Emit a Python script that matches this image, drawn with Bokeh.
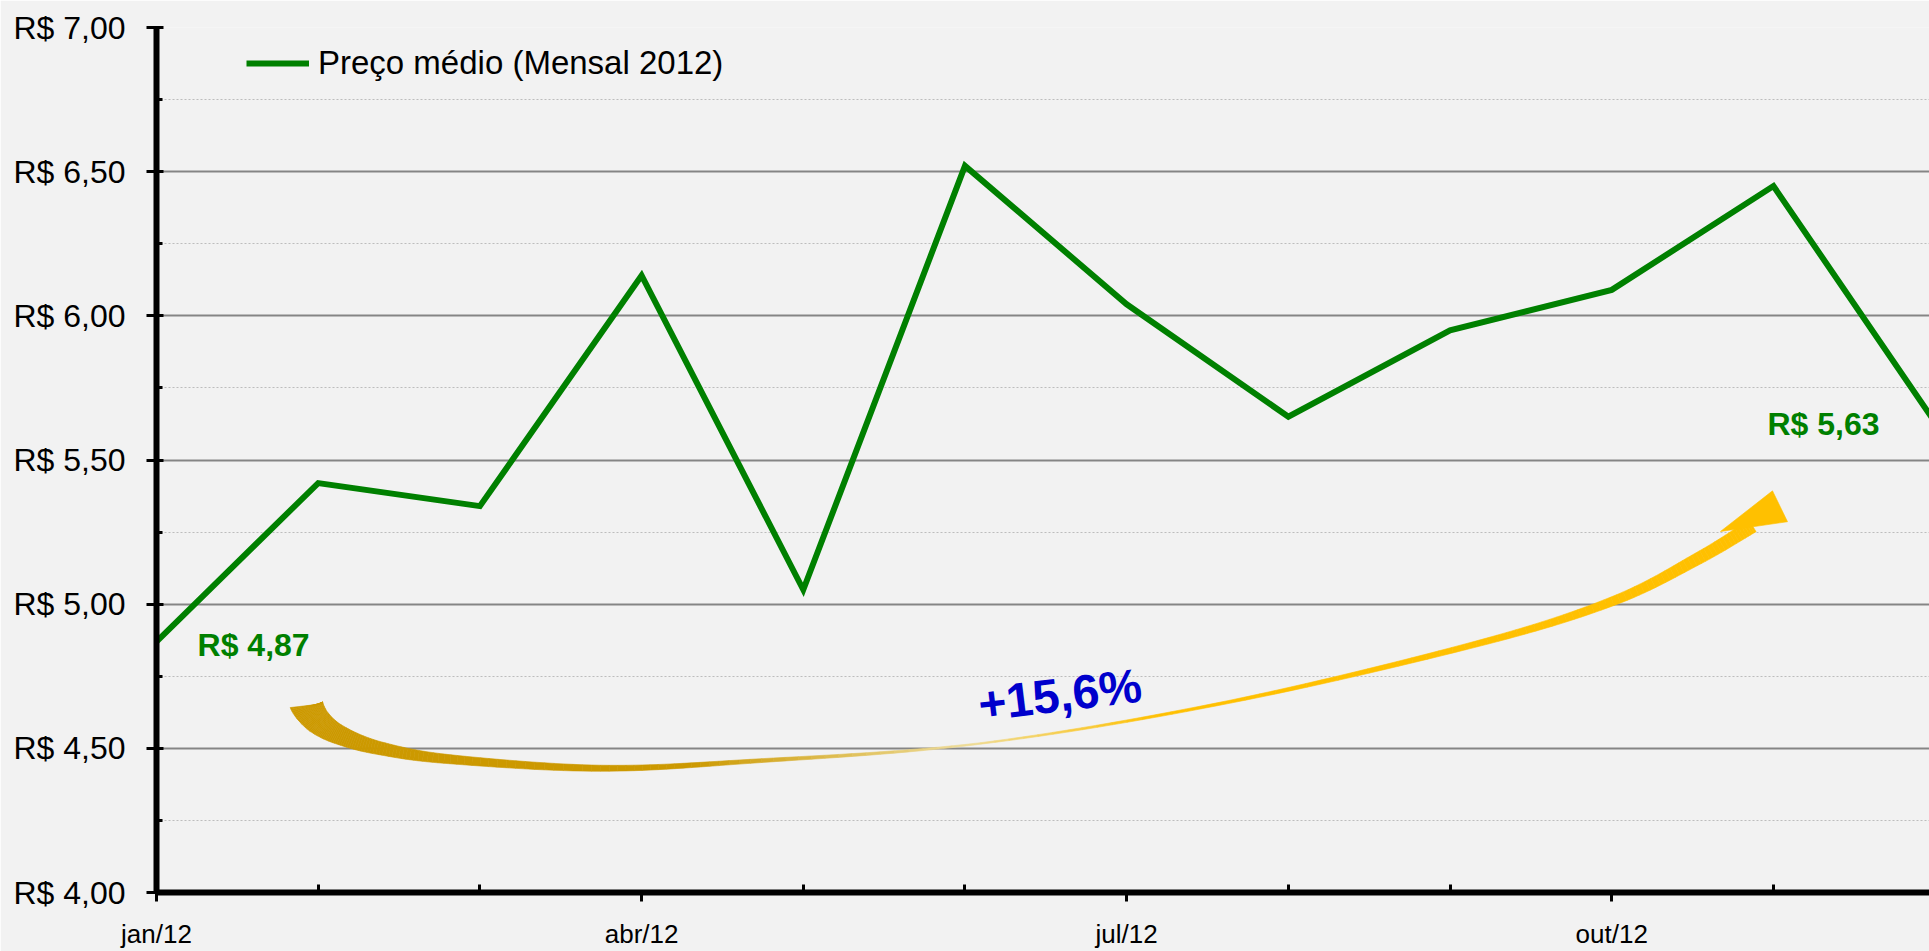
import numpy as np
from bokeh.plotting import figure
from bokeh.models import Range1d, FixedTicker, Legend, LegendItem, ColumnDataSource
from bokeh.core.properties import value
from bokeh.embed import file_html
from bokeh.resources import INLINE

# ---------------- data ----------------
months = ["jan/12", "fev/12", "mar/12", "abr/12", "mai/12", "jun/12",
          "jul/12", "ago/12", "set/12", "out/12", "nov/12", "dez/12"]
precos = [4.87, 5.42, 5.34, 6.14, 5.05, 6.52, 6.04, 5.65, 5.95, 6.09, 6.45, 5.63]
y_ticks = [4.0, 4.5, 5.0, 5.5, 6.0, 6.5, 7.0]
y_tick_labels = ["R$ 4,00", "R$ 4,50", "R$ 5,00", "R$ 5,50", "R$ 6,00", "R$ 6,50", "R$ 7,00"]
y_minor = [4.25, 4.75, 5.25, 5.75, 6.25, 6.75]
series_name = "Preço médio (Mensal 2012)"
label_first = "R$ 4,87"
label_last = "R$ 5,63"
label_var = "+15,6%"

# ---------------- layout ----------------
W, H = 1929, 951
BL, BR, BT, BB = 156, 0, 27, 56
FONT = "Liberation Sans"
x_start, x_end = 0.0, 10.965
y_start, y_end = 4.0, 7.0

p = figure(width=W, height=H, output_backend="svg", toolbar_location=None,
           x_range=Range1d(x_start, x_end), y_range=Range1d(y_start, y_end),
           min_border_left=BL, min_border_right=BR, min_border_top=BT, min_border_bottom=BB,
           background_fill_color="#f2f2f2", border_fill_color="#f2f2f2",
           outline_line_color=None)

# axes
xi = list(range(len(months)))
p.xaxis.ticker = FixedTicker(ticks=xi[::3], minor_ticks=[i for i in xi if i % 3 != 0])
p.xaxis.major_label_overrides = {i: months[i] for i in xi[::3]}
p.yaxis.ticker = FixedTicker(ticks=y_ticks, minor_ticks=y_minor)
p.yaxis.major_label_overrides = {t: l for t, l in zip(y_ticks, y_tick_labels)}

for ax in (p.xaxis, p.yaxis):
    ax.axis_line_color = "black"
    ax.axis_line_width = 6
    ax.major_tick_line_color = "black"
    ax.major_tick_line_width = 3
    ax.minor_tick_line_color = "black"
    ax.minor_tick_line_width = 3
    ax.major_label_text_font = FONT
    ax.major_label_text_color = "black"

p.yaxis.major_tick_out = 10
p.yaxis.major_tick_in = 7
p.yaxis.minor_tick_out = 0
p.yaxis.minor_tick_in = 6
p.yaxis.major_label_text_font_size = "32px"
p.yaxis.major_label_standoff = 21

p.xaxis.major_tick_out = 9
p.xaxis.major_tick_in = 0
p.xaxis.minor_tick_out = 0
p.xaxis.minor_tick_in = 8
p.xaxis.major_label_text_font_size = "26px"
p.xaxis.major_label_standoff = 17

# grids
p.xgrid.grid_line_color = None
p.ygrid.grid_line_color = "#858585"
p.ygrid.grid_line_width = 2
p.ygrid.minor_grid_line_color = "#bdbdbd"
p.ygrid.minor_grid_line_width = 1
p.ygrid.minor_grid_line_dash = "2 2"

# ---------------- arrow (decorative swoosh) ----------------
arrow_x = [0.928, 1.002, 1.138, 1.385, 1.818, 2.746, 3.673, 5.096, 6.642, 8.163, 9.004, 9.536, 9.870]
arrow_y = [4.648, 4.593, 4.545, 4.500, 4.462, 4.431, 4.455, 4.517, 4.662, 4.862, 5.010, 5.159, 5.272]
arrow_w = [33, 26, 19, 13, 9, 6, 4, 1.5, 3, 6, 9, 12, 14]
head_x = [9.672, 9.994, 10.087]
head_y = [5.252, 5.393, 5.286]

fw = W - BL - BR
fh = H - BT - BB
sx = fw / (x_end - x_start)
sy = fh / (y_end - y_start)

P = np.column_stack([(np.array(arrow_x) - x_start) * sx, (np.array(arrow_y) - y_start) * sy])
n = len(P)
pts, wid = [], []
for i in range(n - 1):
    p0, p1, p2, p3 = P[max(i - 1, 0)], P[i], P[i + 1], P[min(i + 2, n - 1)]
    for t in np.linspace(0, 1, 18)[:-1]:
        t2, t3 = t * t, t * t * t
        c = 0.5 * ((2 * p1) + (-p0 + p2) * t + (2 * p0 - 5 * p1 + 4 * p2 - p3) * t2
                   + (-p0 + 3 * p1 - 3 * p2 + p3) * t3)
        pts.append(c)
        wid.append(arrow_w[i] + (arrow_w[i + 1] - arrow_w[i]) * t)
pts.append(P[-1]); wid.append(arrow_w[-1])
pts = np.array(pts); wid = np.array(wid)
tg = np.gradient(pts, axis=0)
tg /= np.linalg.norm(tg, axis=1)[:, None]
nrm = np.column_stack([-tg[:, 1], tg[:, 0]])
cut = np.array([17.0, 2.0]); cut /= np.linalg.norm(cut)
for k in range(6):
    a = k / 6.0
    v = (1 - a) * cut + a * nrm[k]
    nrm[k] = v / np.linalg.norm(v)
L = pts + nrm * (wid[:, None] / 2)
R = pts - nrm * (wid[:, None] / 2)

def to_data(arr):
    return arr[:, 0] / sx + x_start, arr[:, 1] / sy + y_start

Lx, Ly = to_data(L)
Rx, Ry = to_data(R)
Cx, _ = to_data(pts)

def hex2rgb(h):
    return np.array([int(h[i:i + 2], 16) for i in (1, 3, 5)], dtype=float)

stops_x = [0.0, 3.3, 5.0, 6.2, 20.0]
stops_c = [hex2rgb(c) for c in ["#cc9900", "#cc9900", "#eedc9a", "#ffc000", "#ffc000"]]

def color_at(x):
    for j in range(len(stops_x) - 1):
        if stops_x[j] <= x <= stops_x[j + 1]:
            a = (x - stops_x[j]) / (stops_x[j + 1] - stops_x[j])
            c = (1 - a) * stops_c[j] + a * stops_c[j + 1]
            return "#%02x%02x%02x" % tuple(int(round(v)) for v in c)
    return "#ffc000"

qx, qy, qc = [], [], []
for k in range(len(pts) - 1):
    qx.append([Lx[k], Lx[k + 1], Rx[k + 1], Rx[k]])
    qy.append([Ly[k], Ly[k + 1], Ry[k + 1], Ry[k]])
    qc.append(color_at(0.5 * (Cx[k] + Cx[k + 1])))
p.patches(xs=qx, ys=qy, fill_color=qc, line_color=qc, line_width=0.6)
p.patch(x=head_x, y=head_y, fill_color="#ffc000", line_color="#ffc000", line_width=0.6)

# ---------------- series ----------------
src = ColumnDataSource(dict(x=xi, y=precos))
r = p.line("x", "y", source=src, line_color="#008000", line_width=6, line_join="miter")

# ---------------- labels ----------------
lab = ColumnDataSource(dict(x=[0.254, 9.963], y=[4.858, 5.624], t=[label_first, label_last]))
p.text("x", "y", text="t", source=lab, text_font=value(FONT), text_font_style="bold",
       text_font_size="32px", text_color="#008000", text_align="left",
       text_baseline="alphabetic")
p.text(x=[5.083], y=[4.651], text=[label_var], angle=0.122, text_font=value(FONT),
       text_font_style="bold", text_font_size="48px", text_color="#0000cc",
       text_align="left", text_baseline="alphabetic")

# ---------------- legend ----------------
legend = Legend(items=[LegendItem(label=series_name, renderers=[r])],
                location=(90, fh - 19 - 40), glyph_width=63, glyph_height=40,
                label_height=40, label_standoff=9, label_text_font=FONT,
                label_text_font_size="33px", label_text_color="black",
                padding=0, margin=0, spacing=0, background_fill_alpha=0,
                border_line_color=None)
p.add_layout(legend)

open("out.html", "w").write(file_html(p, INLINE))
